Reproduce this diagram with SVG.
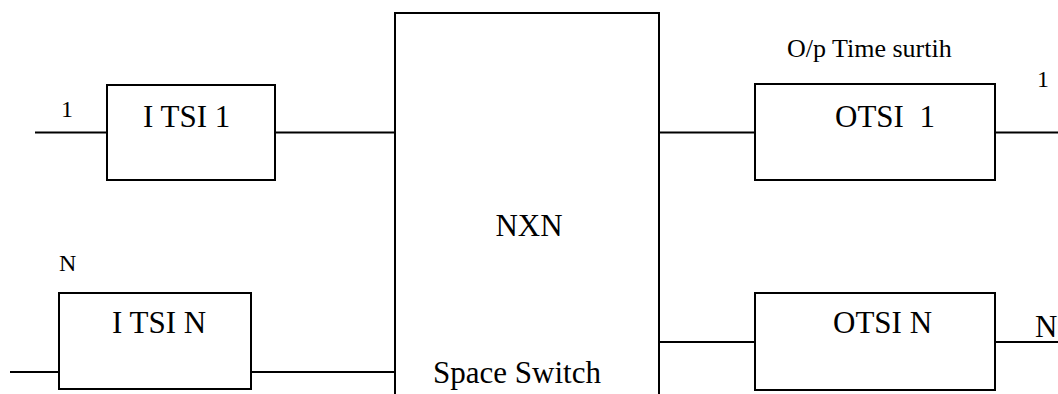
<svg xmlns="http://www.w3.org/2000/svg" width="1058" height="394" viewBox="0 0 1058 394">
<style>
.box{fill:#fff;stroke:#000;stroke-width:2}
.ln{stroke:#000;stroke-width:2;fill:none}
text{font-family:'Liberation Serif','Times New Roman','DejaVu Serif',serif;fill:#000}
.big{font-size:31px}
.sm{font-size:24px}
.mid{font-size:26px}
</style>
<rect width="1058" height="394" fill="#fff"/>
<g id="connectors">
<line class="ln" x1="35" y1="132.5" x2="107" y2="132.5"/>
<line class="ln" x1="275" y1="132.5" x2="395" y2="132.5"/>
<line class="ln" x1="10" y1="372" x2="59" y2="372"/>
<line class="ln" x1="251" y1="372" x2="395" y2="372"/>
<line class="ln" x1="659" y1="132.5" x2="755" y2="132.5"/>
<line class="ln" x1="995" y1="132.5" x2="1058" y2="132.5"/>
<line class="ln" x1="659" y1="342" x2="755" y2="342"/>
<line class="ln" x1="995" y1="342" x2="1058" y2="342"/>
</g>
<g id="space-switch">
<rect class="box" x="395" y="13" width="264" height="400"/>
<text class="big" x="529" y="236" text-anchor="middle">NXN</text>
<text class="big" x="517" y="383" text-anchor="middle">Space Switch</text>
</g>
<g id="itsi-1">
<rect class="box" x="107" y="85" width="168" height="95"/>
<text class="big" x="143" y="127">I TSI 1</text>
</g>
<g id="itsi-n">
<rect class="box" x="59" y="293" width="192" height="96"/>
<text class="big" x="112" y="333">I TSI N</text>
</g>
<g id="otsi-1">
<rect class="box" x="755" y="84" width="240" height="96"/>
<text class="big" x="835" y="127" xml:space="preserve">OTSI  1</text>
</g>
<g id="otsi-n">
<rect class="box" x="755" y="293" width="240" height="97"/>
<text class="big" x="833" y="333">OTSI N</text>
</g>
<g id="labels">
<text class="sm" x="61" y="117">1</text>
<text class="sm" x="59" y="271">N</text>
<text class="mid" x="787" y="57">O/p Time surtih</text>
<text class="sm" x="1037" y="87">1</text>
<text class="big" x="1035" y="337">N</text>
</g>
</svg>
